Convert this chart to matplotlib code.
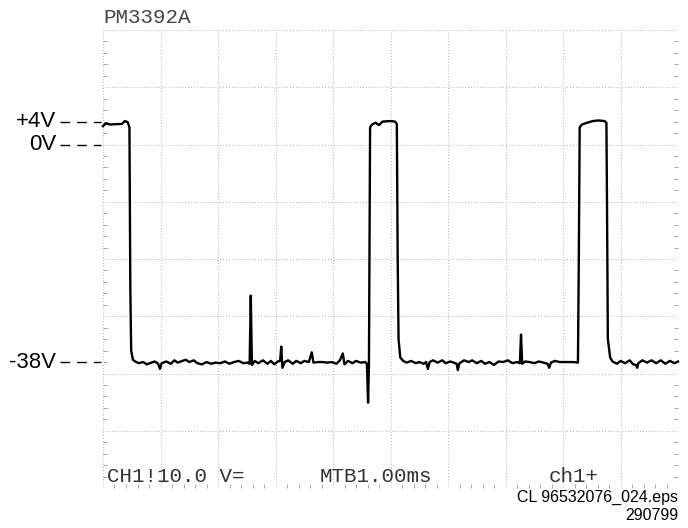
import numpy as np
import matplotlib
matplotlib.use("Agg")
import matplotlib.pyplot as plt
from matplotlib import transforms
from matplotlib.lines import Line2D
from matplotlib.ticker import MultipleLocator

# Captured trace: time (ms) and voltage (V), 10 V/div, 1 ms/div
time_ms = [
    0.00, 0.05, 0.12, 0.33, 0.38, 0.43, 0.46, 0.475, 0.49, 0.52, 0.56,
    0.62, 0.70, 0.76, 0.84, 0.90, 0.96, 0.99, 1.02, 1.10, 1.18, 1.24, 1.30,
    1.38, 1.44, 1.50, 1.58, 1.64, 1.72, 1.80, 1.88, 1.96, 2.04, 2.12, 2.20,
    2.28, 2.36, 2.44, 2.52, 2.55, 2.57, 2.59, 2.64, 2.70, 2.78, 2.86, 2.92,
    2.98, 3.04, 3.08, 3.10, 3.12, 3.16, 3.22, 3.30, 3.36, 3.44, 3.50, 3.58,
    3.63, 3.66, 3.74, 3.82, 3.90, 3.98, 4.06, 4.12, 4.17, 4.20, 4.26, 4.34,
    4.40, 4.48, 4.56, 4.59, 4.61, 4.625, 4.645, 4.68, 4.74, 4.80, 4.86, 5.00,
    5.08, 5.11, 5.125, 5.14, 5.17, 5.22, 5.28, 5.36, 5.44, 5.50, 5.58, 5.62,
    5.65, 5.68, 5.74, 5.82, 5.90, 5.96, 6.04, 6.10, 6.15, 6.17, 6.20, 6.28,
    6.36, 6.42, 6.50, 6.58, 6.64, 6.72, 6.80, 6.88, 6.96, 7.04, 7.12, 7.20,
    7.25, 7.27, 7.29, 7.34, 7.42, 7.50, 7.58, 7.66, 7.73, 7.76, 7.79, 7.86,
    7.94, 8.02, 8.10, 8.18, 8.26, 8.275, 8.29, 8.33, 8.42, 8.52, 8.62, 8.72,
    8.755, 8.765, 8.78, 8.82, 8.86, 8.94, 9.00, 9.08, 9.16, 9.22, 9.27, 9.29,
    9.31, 9.38, 9.46, 9.54, 9.62, 9.70, 9.78, 9.86, 9.94, 10.00,
]
volts = [
    3.2, 3.7, 3.5, 3.6, 4.1, 3.9, 3.0, -25.0, -36.0, -37.6, -37.9,
    -38.2, -38.0, -38.4, -38.1, -37.9, -38.3, -39.2, -38.2, -37.9, -38.3, -37.7, -38.1,
    -37.8, -37.6, -38.0, -37.7, -38.2, -38.4, -38.0, -38.3, -38.1, -38.2, -37.9, -38.3,
    -38.0, -37.8, -38.2, -38.1, -38.3, -26.4, -38.5, -37.8, -38.2, -37.7, -38.3, -37.8,
    -38.4, -37.9, -37.8, -35.3, -39.0, -38.0, -37.7, -38.3, -37.8, -38.2, -37.8, -38.0,
    -36.3, -38.1, -38.0, -38.0, -38.1, -38.0, -38.3, -37.7, -36.5, -38.4, -37.8, -38.2,
    -37.8, -38.1, -38.0, -38.3, -45.1, -38.5, 3.0, 3.5, 3.8, 3.4, 4.0, 4.1,
    4.0, 3.6, -20.0, -34.0, -37.2, -37.8, -38.1, -37.8, -38.2, -38.0, -38.3, -38.0,
    -39.2, -38.0, -37.7, -38.1, -37.7, -38.2, -37.9, -38.1, -38.3, -39.4, -38.2, -37.7,
    -38.0, -37.7, -38.2, -37.8, -38.3, -38.0, -38.5, -37.9, -38.0, -37.7, -38.2, -38.0,
    -38.2, -33.2, -38.3, -37.9, -38.0, -38.2, -37.9, -38.1, -38.3, -39.0, -38.1, -37.8,
    -38.0, -38.0, -38.0, -38.0, -38.1, -20.0, 3.0, 3.5, 3.8, 4.1, 4.2, 4.1,
    3.8, -10.0, -34.0, -37.2, -37.9, -38.3, -37.8, -38.2, -37.7, -38.4, -38.5, -39.0,
    -38.2, -37.7, -38.1, -37.7, -38.2, -37.7, -38.3, -37.8, -38.2, -37.9,
]

level_labels = ["+4V", "0V", "-38V"]
level_values = [4, 0, -38]

title_text = "PM3392A"
readouts = ["CH1!10.0 V=", "MTB1.00ms", "ch1+"]
readout_x_px = [107, 320, 549]
file_lines = ["CL 96532076_024.eps", "290799"]

W, H = 688, 528
fig = plt.figure(figsize=(W / 100, H / 100), dpi=100)
fig.patch.set_facecolor("white")

# screen: 10 x 8 divisions
ax = fig.add_axes([103 / W, 40 / H, 575 / W, 458 / H])
ax.set_xlim(0, 10)
ax.set_ylim(-60, 20)
for s in ax.spines.values():
    s.set_visible(False)

ax.set_xticks(np.arange(0, 11, 1))
ax.set_yticks(np.arange(-60, 21, 10))
ax.xaxis.set_minor_locator(MultipleLocator(0.2))
ax.yaxis.set_minor_locator(MultipleLocator(2))
ax.tick_params(which="major", length=0, labelbottom=False, labelleft=False)
ax.tick_params(which="minor", direction="in", length=3, width=0.7, color="#a8a8a8",
               left=True, right=True, bottom=True, top=False)
ax.grid(True, which="major", color="#9c9c9c", linestyle=(0, (1, 2.5)), linewidth=0.6)

ax.plot(time_ms, volts, color="black", linewidth=1.7, solid_joinstyle="round",
        clip_on=False, zorder=3)

# level markers on the left
blend = transforms.blended_transform_factory(fig.transFigure, ax.transData)
for lab, val in zip(level_labels, level_values):
    fig.text(56 / W, val, lab, transform=blend, ha="right", va="center",
             fontsize=16, family="Liberation Sans", color="black")
    fig.add_artist(Line2D([60 / W, 101 / W], [val, val], transform=blend,
                          color="black", linewidth=1.0, dashes=(7, 5)))

fig.text(103 / W, 1 - 23 / H, title_text, ha="left", va="baseline",
         fontsize=15, family="Liberation Mono", color="#444444")

for txt, xp in zip(readouts, readout_x_px):
    fig.text(xp / W, 1 - 482 / H, txt, ha="left", va="baseline",
             fontsize=15, family="Liberation Mono", color="#333333")

fig.text(678 / W, 1 - 497 / H, file_lines[0], ha="right", va="center",
         fontsize=11.5, family="Liberation Sans", color="black")
fig.text(678 / W, 1 - 515 / H, file_lines[1], ha="right", va="center",
         fontsize=11.5, family="Liberation Sans", color="black")

fig.savefig("out.png", dpi=100, facecolor="white")
